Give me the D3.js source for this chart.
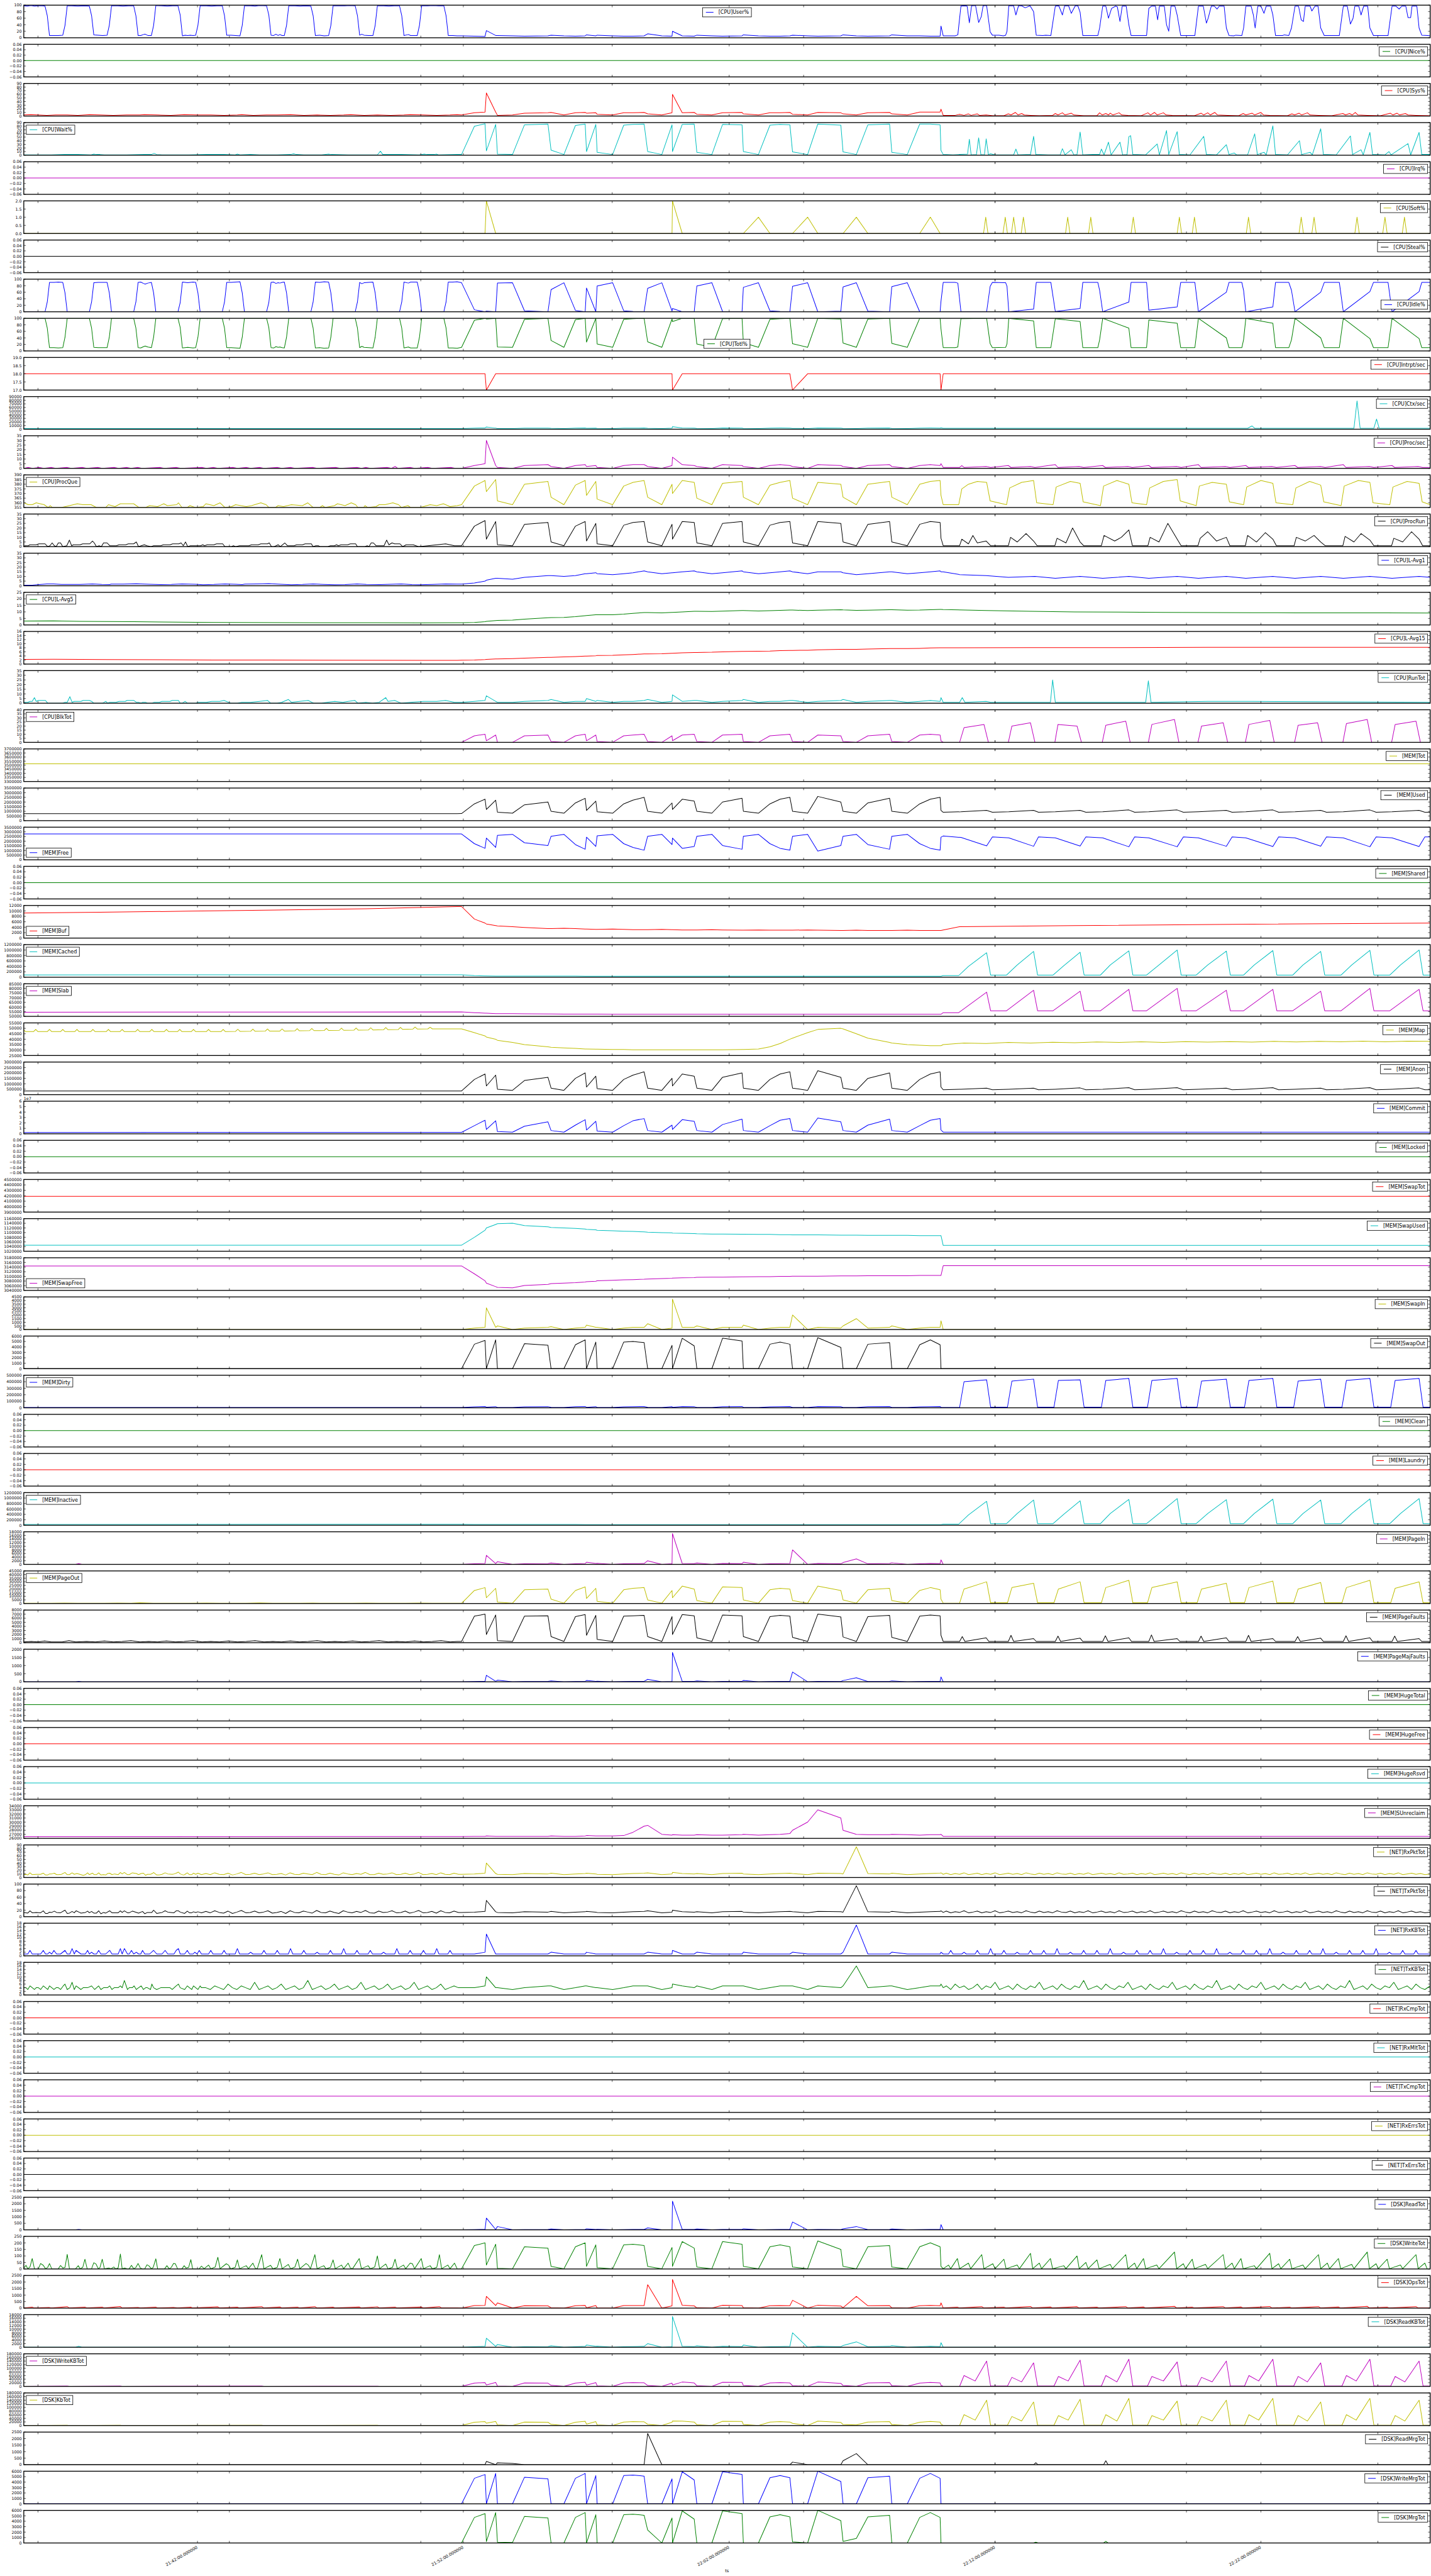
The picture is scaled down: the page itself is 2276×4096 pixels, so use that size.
<!DOCTYPE html>
<html><head><meta charset="utf-8">
<script src="https://cdn.jsdelivr.net/npm/d3@7/dist/d3.min.js"></script>
<style>html,body{margin:0;padding:0;background:#fff}svg{display:block}</style>
</head><body>
<svg id="chart" width="2276" height="4096" xmlns="http://www.w3.org/2000/svg"></svg>
<script>
// ---------------- time axis (seconds after 21:35:00) ----------------
const xDomain = [28, 3202];
const majorTicks = ["21:42:00","21:52:00","22:02:00","22:12:00","22:22:00"];
const minorTicks = ["21:36:00","21:43:12","21:50:24","21:57:36","22:04:48","22:12:00","22:19:12","22:26:24"];
const xLabel = "ts";
// sparse sampling period (sample times)
const tB = [1016,1045,1069,1072,1093,1097,1131,1158,1211,1218,1247,1273,1295,1298,1319,1322,1357,1382,1403,1428,1436,1468,1491,1492,1514,1541,1547,1581,1605,1649,1652,1686,1712,1735,1757,1763,1797,1820,1872,1877,1907,1933,1982,1987,2022,2050,2074,2096,2098];
const Z = (ts, vs) => ts.map((t, i) => [t, vs[i]]);
const zero = [[28,0],[3202,0]];

// ---------------- CPU ----------------
const cpuUser = [
 [28,98],[36,97],[44,99],[52,97],[60,98],[70,98],[76,97],[81,68],[86,7],[96,7],[106,7],[116,8],[121,38],[126,98],
 [136,98],[150,97],[164,98],[176,97],[181,68],[186,9],[196,8],[206,7],[216,8],[221,38],[226,98],
 [240,98],[252,97],[264,98],[276,98],[281,68],[286,7],[292,7],[298,10],[302,11],[308,7],[316,7],[321,38],[326,99],
 [340,98],[352,97],[364,98],[376,98],[381,70],[386,6],[392,8],[398,7],[404,8],[410,7],[416,8],[421,38],[426,98],
 [440,98],[452,97],[464,98],[476,98],[481,68],[486,8],[496,8],[506,7],[516,6],[521,38],[526,98],
 [540,98],[550,97],[560,99],[576,98],[581,70],[586,8],[592,7],[597,11],[602,7],[606,10],[611,7],[616,7],[621,38],[626,98],
 [640,98],[652,97],[664,98],[676,97],[681,68],[686,7],[696,8],[706,6],[716,7],[721,38],[726,98],
 [740,98],[752,98],[764,99],[776,98],[781,68],[786,8],[791,11],[796,8],[806,7],[816,7],[821,38],[826,98],
 [840,98],[852,97],[864,98],[876,98],[881,68],[886,7],[896,10],[901,7],[916,7],[921,38],[926,98],
 [940,98],[952,99],[964,98],[976,98],[981,68],[986,7],[996,7],[1006,6],
 ...Z(tB,[6,5,4,22,7,7,6,5,6,8,6,5,6,9,6,8,6,5,5,6,12,6,5,20,6,5,8,6,5,6,9,6,5,5,6,8,6,5,6,9,6,5,6,9,6,6,5,5,36]),
 [2103,6],[2115,6],[2130,6],[2136,9],[2143,97],[2151,98],[2157,97],[2162,46],[2167,98],[2176,99],[2183,47],[2189,65],[2193,98],[2201,99],[2209,18],[2214,8],[2229,8],[2239,6],[2244,8],[2247,20],
 [2251,98],[2262,98],[2267,70],[2273,98],[2280,98],[2288,92],[2299,98],[2307,80],[2313,8],[2328,7],[2334,8],[2346,7],
 [2356,97],[2364,98],[2372,70],[2377,98],[2386,98],[2392,75],[2401,98],[2407,98],[2412,78],[2418,7],[2452,7],[2456,30],
 [2463,97],[2470,97],[2476,60],[2483,90],[2492,97],[2496,95],[2502,50],[2507,97],[2516,97],[2522,40],[2527,7],[2562,7],
 [2567,90],[2573,97],[2582,97],[2587,55],[2591,97],[2602,97],[2607,40],[2612,20],[2617,97],[2626,97],[2631,70],[2639,7],[2671,7],
 [2679,97],[2690,97],[2697,45],[2701,60],[2708,97],[2715,97],[2721,88],[2726,97],[2737,97],[2742,30],[2748,7],[2759,6],[2763,8],[2777,7],[2781,30],
 [2786,97],[2798,97],[2803,70],[2807,30],[2813,97],[2820,97],[2827,75],[2832,97],[2842,97],[2847,70],[2853,7],[2869,7],[2873,9],[2883,7],[2889,30],
 [2897,97],[2905,97],[2911,55],[2916,50],[2920,97],[2931,97],[2935,82],[2942,97],[2949,97],[2955,30],[2963,7],[2997,7],
 [3006,97],[3015,97],[3022,42],[3028,60],[3032,97],[3041,97],[3046,70],[3052,97],[3061,97],[3066,30],[3074,7],[3107,7],
 [3116,97],[3125,97],[3132,88],[3138,97],[3147,97],[3152,62],[3158,62],[3161,97],[3172,97],[3177,30],[3183,8],[3197,7],[3202,6]
];
const cpuNice = zero;
const cpuSys = [
 [28,3],[44,4],[60,3],[80,2],[100,3],[126,3],[150,2],[176,4],[200,3],[230,2],[260,3],[290,3],[300,4],[330,3],[360,2],[390,4],[420,3],[450,3],[480,2],[510,3],[520,4],[546,2],[576,3],[600,3],[630,4],[660,2],[690,3],[720,2],[750,3],[766,4],[796,2],[826,3],[856,2],[886,3],[900,4],[930,3],[960,2],[990,3],[1006,4],
 ...Z(tB,[3,9,11,64,11,2,3,8,9,10,3,9,10,8,9,5,3,9,9,10,6,3,9,60,9,10,5,3,9,10,6,3,9,9,10,5,3,10,9,6,3,9,10,6,3,11,11,11,19]),
 [2103,2],[2130,2],[2140,5],[2150,2],[2160,6],[2166,2],[2180,6],[2185,2],[2200,3],[2215,1],[2240,1],[2250,6],[2256,3],[2266,10],[2272,3],[2280,7],[2286,3],[2300,2],[2320,1],[2350,2],[2356,7],[2362,3],[2372,9],[2378,3],[2392,8],[2398,3],[2420,1],[2450,1],[2456,9],[2462,3],[2470,7],[2476,3],[2480,8],[2486,3],[2500,9],[2506,3],[2520,2],[2550,1],[2565,9],[2571,3],[2580,10],[2586,3],[2600,9],[2606,3],[2620,2],[2670,1],[2685,8],[2691,3],[2700,9],[2706,3],[2716,10],[2722,3],[2745,2],[2770,1],[2780,7],[2786,3],[2800,8],[2806,3],[2820,10],[2826,3],[2840,2],[2880,1],[2890,6],[2896,3],[2906,8],[2912,3],[2925,9],[2931,3],[2950,2],[2980,1],[3005,7],[3011,3],[3020,7],[3026,3],[3033,10],[3039,3],[3060,2],[3090,1],[3112,8],[3118,3],[3127,8],[3133,3],[3146,7],[3152,3],[3170,2],[3202,1]
];
const cpuWait = [
 [28,1],[90,1],[120,2],[150,2],[180,1],[186,3],[192,2],[200,2],[210,1],[260,1],[300,2],[316,2],[322,5],[328,2],[340,1],[400,1],[440,2],[480,2],[505,1],[510,3],[516,1],[540,2],[560,1],[600,1],[630,2],[637,4],[643,2],[660,1],[700,1],[716,3],[722,2],[760,1],[826,1],[833,11],[838,2],[880,2],[920,1],[932,3],[938,2],[955,2],[959,3],[964,1],[1006,2],
 ...Z(tB,[2,80,87,12,85,3,2,84,86,14,2,82,86,10,85,8,2,83,85,86,10,2,84,10,85,86,8,2,85,84,10,2,83,85,84,9,2,86,83,9,2,84,86,8,2,86,86,84,13]),
 [2103,2],[2125,1],[2140,2],[2158,3],[2162,44],[2166,1],[2178,2],[2183,48],[2188,2],[2196,1],[2200,45],[2205,2],[2210,4],[2220,1],[2262,1],[2267,17],[2272,1],[2300,2],[2307,52],[2312,2],[2340,1],[2367,1],[2372,18],[2378,1],[2392,15],[2398,1],[2405,2],[2412,64],[2418,1],[2440,2],[2456,2],[2460,17],[2466,1],[2476,36],[2482,1],[2502,36],[2508,1],[2518,2],[2522,51],[2526,54],[2531,2],[2560,1],[2586,31],[2591,1],[2607,68],[2612,2],[2631,65],[2636,2],[2660,1],[2691,52],[2697,2],[2720,1],[2742,29],[2748,2],[2760,6],[2765,1],[2790,1],[2806,59],[2812,2],[2827,8],[2832,1],[2847,81],[2853,2],[2880,1],[2907,40],[2912,2],[2931,8],[2936,1],[2955,73],[2961,2],[2990,1],[3022,53],[3027,2],[3046,15],[3051,1],[3066,63],[3072,2],[3100,1],[3109,10],[3114,1],[3152,32],[3158,1],[3177,63],[3183,2],[3202,2]
];
const cpuIrq = zero;
const cpuSoft = [
 [28,0],
 ...Z(tB,[0,0,0,2,0,0,0,0,0,0,0,0,0,0,0,0,0,0,0,0,0,0,0,2,0,0,0,0,0,0,0,1,0,0,0,0,1,0,0,0,1,0,0,0,0,0,1,0,0]),
 [2103,0],[2194,0],[2199,1],[2204,0],[2238,0],[2243,1],[2248,0],[2257,0],[2262,1],[2267,0],[2279,0],[2284,1],[2289,0],[2379,0],[2384,1],[2389,0],[2431,0],[2436,1],[2441,0],[2527,0],[2532,1],[2537,0],[2631,0],[2636,1],[2641,0],[2665,0],[2670,1],[2675,0],[2787,0],[2792,1],[2797,0],[2906,0],[2911,1],[2916,0],[2935,0],[2940,1],[2945,0],[3032,0],[3037,1],[3042,0],[3095,0],[3100,1],[3105,0],[3139,0],[3144,1],[3149,0],[3202,0]
];
const cpuSteal = zero;
const cpuIdle = [
 [28,0],[76,0],[81,30],[86,90],[96,90],[106,91],[116,90],[121,58],[126,0],[176,0],[181,30],[186,89],[196,90],[206,90],[216,90],[221,58],[226,0],[276,0],[281,30],[286,90],[292,91],[298,87],[302,85],[308,88],[316,90],[321,58],[326,0],[376,0],[381,28],[386,91],[392,90],[398,89],[404,90],[410,91],[416,90],[421,58],[426,0],[476,0],[481,30],[486,90],[496,90],[506,91],[516,92],[521,58],[526,0],[576,0],[581,28],[586,90],[592,91],[597,87],[602,89],[606,88],[611,90],[616,91],[621,58],[626,0],[676,0],[681,30],[686,91],[696,90],[706,92],[716,91],[721,58],[726,0],[776,0],[781,30],[786,90],[791,86],[796,89],[806,90],[816,91],[821,58],[826,0],[876,0],[881,30],[886,91],[896,88],[901,91],[916,91],[921,58],[926,0],[976,0],[981,30],[986,91],[996,91],[1006,92],
 ...Z(tB,[89,6,0,2,0,88,89,3,0,68,89,4,0,73,0,79,89,3,1,0,72,89,2,10,0,0,79,89,1,0,75,89,3,1,0,78,89,0,2,76,89,2,0,77,89,0,0,0,32]),
 [2103,90],[2130,90],[2136,88],[2143,1],[2201,0],[2209,78],[2214,90],[2244,89],[2247,78],[2251,0],[2307,8],[2313,90],[2346,90],[2356,1],[2412,10],[2418,90],[2452,90],[2456,66],[2463,0],[2522,30],[2527,90],[2562,90],[2567,5],[2631,15],[2639,90],[2671,90],[2679,0],[2742,60],[2748,90],[2777,90],[2781,65],[2786,0],[2847,15],[2853,90],[2883,90],[2889,66],[2897,0],[2955,60],[2963,90],[2997,90],[3006,0],[3066,62],[3074,90],[3107,90],[3116,0],[3177,62],[3183,90],[3202,90]
];
const cpuTotl = [
 [28,100],[76,100],[81,70],[86,10],[96,10],[106,9],[116,10],[121,42],[126,100],[176,100],[181,70],[186,11],[196,10],[206,10],[216,10],[221,42],[226,100],[276,100],[281,70],[286,10],[292,9],[298,13],[302,15],[308,12],[316,10],[321,42],[326,100],[376,100],[381,72],[386,9],[392,10],[398,11],[404,10],[410,9],[416,10],[421,42],[426,100],[476,100],[481,70],[486,10],[496,10],[506,9],[516,8],[521,42],[526,100],[576,100],[581,72],[586,10],[592,9],[597,13],[602,11],[606,12],[611,10],[616,9],[621,42],[626,100],[676,100],[681,70],[686,9],[696,10],[706,8],[716,9],[721,42],[726,100],[776,100],[781,70],[786,10],[791,14],[796,11],[806,10],[816,9],[821,42],[826,100],[876,100],[881,70],[886,9],[896,12],[901,9],[916,9],[921,42],[926,100],[976,100],[981,70],[986,9],[996,9],[1006,8],
 ...Z(tB,[11,94,100,98,100,12,11,97,100,32,11,96,100,27,100,21,11,97,99,100,28,11,98,90,100,100,21,11,99,100,25,11,97,99,100,22,11,100,98,24,11,98,100,23,11,100,100,100,68]),
 [2103,10],[2130,10],[2136,12],[2143,99],[2201,100],[2209,22],[2214,10],[2244,11],[2247,22],[2251,100],[2307,92],[2313,10],[2346,10],[2356,99],[2412,90],[2418,10],[2452,10],[2456,34],[2463,100],[2522,70],[2527,10],[2562,10],[2567,95],[2631,85],[2639,10],[2671,10],[2679,100],[2742,40],[2748,10],[2777,10],[2781,35],[2786,100],[2847,85],[2853,10],[2883,10],[2889,34],[2897,100],[2955,40],[2963,10],[2997,10],[3006,100],[3066,38],[3074,10],[3107,10],[3116,100],[3177,38],[3183,10],[3202,10]
];
const cpuIntrpt = [
 [28,18],
 ...Z(tB,[18,18,18,17,18,18,18,18,18,18,18,18,18,18,18,18,18,18,18,18,18,18,18,17,18,18,18,18,18,18,18,18,18,18,18,17,18,18,18,18,18,18,18,18,18,18,18,18,17]),
 [2103,18],[3202,18]
];
const cpuCtx = [
 [28,1500],[200,1600],[400,1500],[600,1600],[800,1500],[1006,1600],
 ...Z(tB,[1600,3000,3500,6000,3200,1800,1600,3000,3100,2500,1600,2900,3400,2400,3100,2000,1600,3000,3100,3200,2600,1600,2900,7000,3300,3000,2200,1600,3300,3100,2300,1600,3000,3200,3000,2200,1600,3400,2900,2300,1600,3000,3200,2200,1600,3000,3300,3100,4000]),
 [2103,2500],[2500,2600],[2790,2600],[2800,9000],[2806,2600],[3030,2600],[3037,78000],[3044,2600],[3075,2600],[3081,28000],[3087,2600],[3202,2600]
];
const cpuProcSec = [
 [28,0],[38,1],[48,0],[63,1],[73,0],[90,1],[100,0],[125,1],[135,0],[160,1],[170,0],[195,1],[205,0],[232,1],[242,0],[260,1],[270,0],[285,1],[295,0],[335,1],[345,0],[372,1],[382,0],[430,1],[440,0],[456,1],[466,0],[500,1],[510,0],[530,1],[540,0],[560,1],[570,0],[600,1],[610,0],[630,1],[640,0],[680,1],[690,0],[732,1],[742,0],[780,1],[790,0],[800,1],[810,0],[848,1],[858,0],[866,2],[872,0],[900,1],[910,0],[940,1],[950,0],[992,1],[1002,0],
 ...Z(tB,[0,3,5,30,3,1,0,3,4,2,0,3,4,2,3,1,0,3,4,4,2,0,3,12,4,3,2,0,4,3,2,0,3,4,3,2,0,4,3,2,0,3,4,2,0,3,4,3,5]),
 [2103,1],[2140,1],[2145,3],[2150,1],[2200,2],[2210,1],[2250,3],[2256,1],[2300,2],[2310,1],[2356,4],[2362,1],[2410,2],[2420,1],[2463,3],[2469,1],[2520,2],[2530,1],[2567,3],[2573,1],[2630,2],[2640,1],[2679,4],[2685,1],[2740,2],[2750,1],[2786,3],[2792,1],[2845,2],[2855,1],[2897,3],[2903,1],[2955,2],[2965,1],[3006,4],[3012,1],[3065,2],[3075,1],[3116,3],[3122,1],[3175,2],[3185,1],[3202,1]
];
const cpuProcQue = [
 [29,360],[38,358],[47,358],[56,360],[74,358],[83,355],[88,357],[92,355],[113,355],[122,356],[131,357],[149,359],[161,358],[180,358],[192,355],[213,355],[219,358],[234,356],[246,359],[258,359],[276,359],[288,355],[303,355],[312,357],[330,356],[344,359],[352,357],[373,358],[377,360],[385,355],[397,355],[403,357],[415,355],[433,356],[439,359],[457,357],[471,360],[482,355],[497,356],[506,358],[530,356],[542,357],[563,360],[575,358],[581,355],[596,355],[602,357],[614,356],[632,358],[657,357],[669,360],[681,355],[696,355],[702,357],[708,355],[729,357],[736,359],[753,357],[767,360],[777,358],[782,355],[795,355],[798,357],[804,355],[823,356],[830,358],[843,358],[861,360],[874,358],[880,355],[895,357],[901,355],[921,355],[930,356],[945,358],[960,357],[975,359],[990,356],[1006,357],
 ...Z(tB,[358,378,384,372,385,362,358,380,383,366,358,379,384,368,383,364,358,378,382,384,366,358,380,370,384,382,365,358,381,383,366,358,379,382,384,365,358,382,380,366,358,380,383,366,358,380,383,384,368]),
 [2103,358],[2138,358],[2145,375],[2160,380],[2180,383],[2201,382],[2209,362],[2246,358],[2253,376],[2280,382],[2307,384],[2314,360],[2351,358],[2358,377],[2390,383],[2412,381],[2419,361],[2458,357],[2465,378],[2495,384],[2522,380],[2529,360],[2562,358],[2569,376],[2600,383],[2631,385],[2638,362],[2674,357],[2681,378],[2710,382],[2742,380],[2749,361],[2781,358],[2788,377],[2820,384],[2847,381],[2854,360],[2892,358],[2899,376],[2930,383],[2955,379],[2962,361],[3001,357],[3008,378],[3040,384],[3066,382],[3073,360],[3111,358],[3118,377],[3150,383],[3177,381],[3184,361],[3202,358]
];
const cpuProcRun = [
 [29,1],[38,1],[42,2],[56,2],[62,3],[76,3],[82,0],[87,1],[92,4],[97,1],[101,0],[106,4],[111,4],[116,0],[125,1],[131,7],[136,1],[140,2],[155,2],[161,3],[177,3],[183,6],[187,4],[192,0],[198,1],[203,0],[208,4],[216,4],[222,1],[237,1],[243,2],[258,2],[264,3],[276,3],[282,5],[287,0],[293,1],[300,2],[306,1],[315,0],[321,1],[337,1],[343,2],[358,2],[364,3],[378,3],[383,4],[388,1],[393,5],[398,0],[404,1],[427,1],[432,2],[436,1],[442,2],[457,2],[463,3],[477,3],[482,0],[497,0],[501,1],[506,0],[515,1],[536,1],[542,2],[557,2],[563,3],[578,3],[582,4],[587,0],[593,0],[602,2],[607,0],[617,4],[623,1],[638,1],[644,2],[657,2],[663,3],[677,3],[681,0],[687,1],[693,1],[696,0],[714,0],[720,1],[729,1],[734,2],[738,1],[744,2],[759,2],[765,3],[777,3],[781,0],[798,0],[803,1],[807,0],[812,4],[817,4],[823,1],[841,1],[847,7],[852,2],[859,4],[865,3],[877,3],[883,0],[891,2],[907,2],[913,1],[919,0],[940,1],[960,2],[980,3],[1000,1],
 ...Z(tB,[1,22,28,8,27,2,1,24,26,5,1,22,27,6,25,3,1,23,26,27,5,1,24,8,27,26,4,1,25,27,5,1,23,26,27,4,1,27,25,5,1,24,27,5,1,24,27,26,9]),
 [2103,1],[2140,1],[2145,8],[2160,3],[2170,12],[2180,4],[2200,6],[2210,1],[2250,1],[2255,10],[2270,5],[2290,14],[2307,6],[2315,1],[2355,1],[2360,9],[2380,4],[2395,20],[2412,5],[2420,1],[2460,1],[2466,12],[2490,6],[2505,10],[2522,18],[2530,1],[2565,1],[2570,10],[2590,5],[2610,25],[2631,8],[2640,1],[2678,1],[2683,9],[2700,16],[2720,6],[2742,10],[2750,1],[2785,1],[2790,12],[2810,5],[2830,15],[2847,8],[2855,1],[2895,1],[2900,10],[2920,6],[2940,12],[2955,5],[2965,1],[3005,1],[3010,11],[3030,5],[3046,14],[3066,7],[3075,1],[3115,1],[3120,9],[3140,5],[3160,16],[3177,8],[3185,1],[3202,1]
];
const cpuLAvg1 = [
 [29,0.6],[47,0.7],[62,1.3],[80,2.0],[95,1.9],[113,1.5],[131,1.4],[155,1.5],[183,2.0],[204,1.5],[222,1.3],[225,1.8],[252,1.8],[282,2.1],[312,1.6],[337,1.3],[361,1.4],[385,2.0],[415,1.6],[433,1.2],[457,1.4],[482,2.0],[506,1.6],[521,1.3],[527,1.8],[554,2.0],[581,2.3],[608,1.6],[632,1.2],[657,1.4],[681,2.0],[705,1.5],[729,1.2],[753,1.3],[780,2.0],[801,1.5],[832,1.3],[856,1.6],[880,2.0],[904,1.3],[921,1.2],[950,1.5],[980,2.0],[1006,1.8],
 ...Z(tB,[1.8,3,5,6,8,8,7,9,11,11,10,11,13,13,14,13,12,13,14,16,15,13,14,14,15,16,15,13,14,16,15,13,14,15,16,15,13,15,15,14,12,13,15,15,13,14,15,16,15]),
 [2103,15],[2140,12],[2200,11],[2250,9],[2310,10],[2356,8],[2412,10],[2463,8],[2522,10],[2567,8],[2631,10],[2679,8],[2742,10],[2786,8],[2847,10],[2897,8],[2955,10],[3006,8],[3066,10],[3116,8],[3177,10],[3202,9]
];
const cpuLAvg5 = [
 [29,3.0],[95,3.1],[155,2.7],[276,2.5],[337,2.2],[457,1.9],[578,1.8],[699,1.7],[820,1.6],[921,1.55],[1006,1.6],
 ...Z(tB,[1.6,1.9,2.5,2.7,3.3,3.4,3.7,4.4,5.5,5.6,5.8,6.4,7.1,7.2,7.8,7.8,7.8,8.3,8.9,9.5,9.5,9.3,9.6,9.6,10.0,10.5,10.5,10.3,10.6,11.0,11.0,10.7,10.9,11.2,11.4,11.4,11.0,11.3,11.6,11.5,11.2,11.3,11.7,11.7,11.3,11.4,11.7,11.9,11.9]),
 [2103,11.8],[2200,11],[2300,10.5],[2400,10],[2500,9.8],[2600,9.6],[2700,9.5],[2800,9.4],[2900,9.3],[3000,9.2],[3100,9.2],[3202,9.1]
];
const cpuLAvg15 = [
 [29,2.3],[95,2.4],[216,2.2],[337,2.1],[457,2.0],[578,1.95],[699,1.9],[921,1.8],[1006,1.85],
 ...Z(tB,[1.9,2.0,2.2,2.3,2.5,2.5,2.7,2.9,3.3,3.3,3.5,3.7,3.9,3.9,4.1,4.2,4.3,4.5,4.7,5.0,5.0,5.1,5.3,5.3,5.5,5.7,5.7,5.8,6.0,6.2,6.2,6.3,6.4,6.6,6.7,6.7,6.8,7.0,7.2,7.2,7.2,7.4,7.6,7.6,7.6,7.7,7.9,8.0,8.0]),
 [2103,8.0],[2300,8.1],[2500,8.1],[2700,8.2],[2900,8.2],[3100,8.2],[3202,8.2]
];
const cpuRunTot = [
 [28,1],[37,1],[42,2],[47,2],[52,6],[56,2],[61,3],[77,3],[82,0],[116,0],[121,1],[126,1],[132,7],[137,1],[142,2],[157,2],[162,3],[176,3],[181,2],[186,0],[206,0],[213,2],[217,0],[222,1],[236,1],[243,2],[257,2],[261,3],[276,3],[282,1],[287,1],[293,0],[296,1],[303,1],[307,0],[318,0],[322,1],[334,1],[340,2],[358,2],[363,3],[377,3],[381,0],[386,0],[392,2],[397,0],[416,0],[422,1],[440,1],[452,2],[470,2],[480,3],[495,0],[510,0],[520,1],[540,1],[560,2],[578,3],[585,0],[600,0],[610,1],[625,4],[632,1],[650,2],[670,3],[682,0],[700,0],[712,1],[730,2],[748,1],[760,2],[775,3],[782,0],[800,1],[815,0],[830,1],[845,6],[850,2],[865,3],[880,0],[900,1],[930,2],[960,2],[980,3],[1000,1],
 ...Z(tB,[1,2,3,8,2,1,1,2,3,4,1,2,2,5,2,3,1,2,2,3,4,1,2,9,2,3,3,1,2,3,4,1,2,2,3,3,1,2,3,4,1,2,3,3,1,2,3,2,6]),
 [2103,1],[2140,1],[2146,6],[2152,1],[2200,2],[2210,1],[2345,1],[2350,25],[2356,1],[2560,1],[2566,24],[2572,1],[2700,2],[2800,2],[3202,1]
];
const cpuBlkTot = [
 [28,0],[1006,0],
 ...Z(tB,[0,8,10,2,9,0,0,8,9,1,0,8,10,2,9,1,0,8,9,10,1,0,8,2,9,10,1,0,9,10,1,0,8,9,10,1,0,9,8,1,0,8,10,1,0,9,10,9,2]),
 [2103,0],[2140,0],[2150,18],[2195,22],[2205,0],[2250,0],[2258,20],[2300,24],[2310,0],[2355,0],[2362,22],[2405,20],[2415,0],[2462,0],[2470,21],[2515,26],[2525,0],[2566,0],[2574,22],[2625,28],[2635,0],[2678,0],[2686,20],[2735,24],[2745,0],[2785,0],[2793,22],[2840,27],[2850,0],[2896,0],[2904,21],[2948,24],[2958,0],[3005,0],[3013,23],[3060,28],[3070,0],[3115,0],[3123,22],[3170,26],[3180,0],[3202,0]
];

// ---------------- MEM ----------------
const memTot = [[28,3518000],[3202,3518000]];
const memUsed = [
 [28,750000],[1006,755000],
 ...Z(tB,[760000,1800000,2300000,1200000,2200000,900000,800000,1700000,2000000,1000000,800000,1900000,2400000,1100000,2100000,950000,800000,1800000,2200000,2500000,1000000,800000,1900000,1200000,2300000,2100000,1000000,800000,2000000,2400000,1000000,800000,1800000,2300000,2500000,1000000,800000,2600000,2000000,1000000,800000,1900000,2400000,1000000,800000,1800000,2300000,2500000,1100000]),
 [2103,900000],[2143,950000],[2201,1100000],[2214,900000],[2251,950000],[2307,1100000],[2318,900000],[2356,950000],[2412,1100000],[2425,900000],[2463,950000],[2522,1150000],[2535,900000],[2567,950000],[2631,1150000],[2645,900000],[2679,950000],[2742,1100000],[2755,900000],[2786,950000],[2847,1150000],[2860,900000],[2897,950000],[2955,1100000],[2968,900000],[3006,950000],[3066,1150000],[3080,900000],[3116,950000],[3177,1100000],[3190,900000],[3202,900000]
];
const memFree = [
 [28,2780000],[1006,2775000],
 ...Z(tB,[2770000,1730000,1230000,2330000,1330000,2630000,2730000,1830000,1530000,2530000,2730000,1630000,1130000,2430000,1430000,2580000,2730000,1730000,1330000,1030000,2530000,2730000,1630000,2330000,1230000,1430000,2530000,2730000,1530000,1130000,2530000,2730000,1730000,1230000,1030000,2530000,2730000,930000,1530000,2530000,2730000,1630000,1130000,2530000,2730000,1730000,1230000,1030000,2430000]),
 [2103,2550000],[2143,2400000],[2201,1500000],[2214,2450000],[2251,2350000],[2307,1450000],[2318,2450000],[2356,2350000],[2412,1480000],[2425,2450000],[2463,2350000],[2522,1400000],[2535,2450000],[2567,2350000],[2631,1400000],[2645,2450000],[2679,2350000],[2742,1450000],[2755,2450000],[2786,2350000],[2847,1420000],[2860,2450000],[2897,2350000],[2955,1460000],[2968,2450000],[3006,2350000],[3066,1400000],[3080,2450000],[3116,2350000],[3177,1420000],[3190,2450000],[3202,2450000]
];
const memShared = zero;
const memBuf = [
 [28,9200],[200,9500],[400,9900],[600,10300],[800,10800],[1006,11600],
 ...Z(tB,[11600,7000,5500,5200,4600,4500,4200,3900,3500,3500,3600,3500,3300,3300,3200,3200,3300,3200,3100,3100,3100,3200,3100,3100,3000,3000,3000,3100,3000,2900,2900,3000,2900,2900,2900,2900,3000,2900,2800,2800,2900,2800,2800,2800,2900,2800,2800,2800,2800]),
 [2103,3000],[2140,4200],[2400,4600],[2800,5100],[3202,5500]
];
const memCached = [
 [28,85000],[1006,90000],
 ...Z(tB,[90000,60000,50000,50000,45000,45000,45000,42000,40000,40000,40000,40000,38000,38000,38000,38000,38000,38000,37000,37000,37000,37000,37000,37000,36000,36000,36000,36000,36000,36000,36000,36000,36000,36000,36000,36000,36000,36000,36000,36000,36000,36000,36000,36000,36000,36000,36000,36000,36000]),
 [2103,60000],[2138,60000],[2160,400000],[2201,900000],[2210,80000],[2246,80000],[2270,450000],[2307,950000],[2316,80000],[2351,80000],[2375,420000],[2412,920000],[2421,80000],[2458,80000],[2480,450000],[2522,970000],[2531,80000],[2562,80000],[2590,450000],[2631,1000000],[2640,80000],[2674,80000],[2700,450000],[2742,960000],[2751,80000],[2781,80000],[2805,450000],[2847,980000],[2856,80000],[2892,80000],[2915,450000],[2955,950000],[2964,80000],[3001,80000],[3025,450000],[3066,990000],[3075,80000],[3111,80000],[3135,450000],[3177,1000000],[3186,80000],[3202,80000]
];
const memSlab = [
 [28,54500],[1006,54700],
 ...Z(tB,[54700,54000,53500,53500,53000,53000,53000,52800,52600,52600,52500,52500,52400,52400,52400,52400,52300,52300,52300,52300,52300,52300,52200,52200,52200,52200,52200,52200,52200,52200,52200,52200,52200,52200,52200,52200,52200,52200,52200,52200,52200,52200,52200,52200,52200,52200,52200,52200,52200]),
 [2103,54000],[2138,54000],[2201,76000],[2210,56000],[2246,56000],[2307,78000],[2316,56000],[2351,56000],[2412,77000],[2421,56000],[2458,56000],[2522,79000],[2531,56000],[2562,56000],[2631,80000],[2640,56000],[2674,56000],[2742,78000],[2751,56000],[2781,56000],[2847,79000],[2856,56000],[2892,56000],[2955,77000],[2964,56000],[3001,56000],[3066,80000],[3075,56000],[3111,56000],[3177,79000],[3186,56000],[3202,56000]
];
const memMap = [
 [28,48500],[32,47000],[50,47000],[55,49000],[60,47000],[81,47000],[86,49000],[91,47000],[111,47000],[116,49000],[121,47000],[143,47000],[148,49000],[153,47000],[179,47000],[184,49000],[189,47000],[214,47000],[219,49000],[224,47000],[245,47000],[250,49000],[255,47000],[280,47000],[285,49000],[290,47000],[312,47000],[317,49000],[322,47000],[345,47000],[350,49000],[355,47000],[375,47000],[380,49000],[385,47000],[406,47000],[411,49000],[416,47000],[440,47000],[445,49000],[450,47000],[473,47000],[478,49000],[483,47000],[506,47200],[511,49200],[516,47200],[540,47300],[545,49300],[550,47300],[573,47400],[578,49400],[583,47400],[606,47500],[611,49500],[616,47500],[640,47700],[645,49700],[650,47700],[673,47900],[678,49900],[683,47900],[706,48000],[711,50000],[716,48000],[740,48200],[745,50200],[750,48200],[773,48300],[778,50300],[783,48300],[806,48500],[811,50500],[816,48500],[840,48700],[845,50700],[850,48700],[873,48900],[878,50900],[883,49000],[906,49300],[911,51200],[916,49400],[940,49500],[945,51000],[950,49500],[1006,49500],
 ...Z(tB,[49500,46000,43000,42000,40000,39000,37000,35000,33000,32500,32000,31500,31000,31000,30800,30800,30500,30500,30300,30300,30300,30300,30200,30200,30200,30200,30200,30300,30300,30500,30500,31000,33000,36000,40000,41000,46000,49000,50000,49500,45000,41000,37000,36500,35000,34500,34000,34000,34000]),
 [2103,35000],[2150,36500],[2200,36000],[2250,37000],[2300,36500],[2350,37200],[2400,36800],[2450,37500],[2500,37000],[2550,37600],[2600,37100],[2650,37800],[2700,37300],[2750,37800],[2800,37400],[2850,38000],[2900,37500],[2950,38000],[3000,37600],[3050,38200],[3100,37700],[3150,38200],[3202,38000]
];
const memAnon = [
 [28,330000],[1006,335000],
 ...Z(tB,[340000,1400000,1900000,800000,1800000,500000,400000,1300000,1600000,600000,400000,1500000,2000000,700000,1700000,550000,400000,1400000,1800000,2100000,600000,400000,1500000,800000,1900000,1700000,600000,400000,1600000,2000000,600000,400000,1400000,1900000,2100000,600000,400000,2200000,1600000,600000,400000,1500000,2000000,600000,400000,1400000,1900000,2100000,700000]),
 [2103,450000],[2143,500000],[2201,600000],[2214,450000],[2251,500000],[2307,600000],[2318,450000],[2356,500000],[2412,620000],[2425,450000],[2463,500000],[2522,640000],[2535,450000],[2567,500000],[2631,640000],[2645,450000],[2679,500000],[2742,600000],[2755,450000],[2786,500000],[2847,640000],[2860,450000],[2897,500000],[2955,600000],[2968,450000],[3006,500000],[3066,640000],[3080,450000],[3116,500000],[3177,620000],[3190,450000],[3202,450000]
];
const memCommit = [
 [28,2500000],[1006,2600000],
 ...Z(tB,[2600000,15000000,25000000,8000000,24000000,4000000,3000000,14000000,22000000,6000000,3000000,16000000,26000000,7000000,23000000,5000000,3000000,15000000,24000000,28000000,6000000,3000000,16000000,8000000,26000000,23000000,6000000,3000000,17000000,27000000,6000000,3000000,15000000,25000000,28000000,6000000,3000000,29000000,22000000,6000000,3000000,16000000,27000000,6000000,3000000,15000000,25000000,28000000,7000000]),
 [2103,3000000],[3202,3000000]
];
const memLocked = zero;
const memSwapTot = [[28,4191000],[3202,4191000]];
const memSwapUsed = [
 [28,1046000],[1006,1046000],
 ...Z(tB,[1046000,1080000,1110000,1120000,1135000,1138000,1140000,1130000,1125000,1122000,1120000,1118000,1115000,1114000,1112000,1110000,1108000,1106000,1105000,1103000,1102000,1100000,1099000,1098000,1097000,1096000,1095000,1094000,1094000,1093000,1093000,1092000,1092000,1091000,1091000,1090000,1090000,1090000,1089000,1089000,1089000,1088000,1088000,1088000,1088000,1087000,1087000,1087000,1087000]),
 [2103,1045000],[3202,1045000]
];
const memSwapFree = [
 [28,3145000],[1006,3145000],
 ...Z(tB,[3145000,3111000,3081000,3071000,3056000,3053000,3051000,3061000,3066000,3069000,3071000,3073000,3076000,3077000,3079000,3081000,3083000,3085000,3086000,3088000,3089000,3091000,3092000,3093000,3094000,3095000,3096000,3097000,3097000,3098000,3098000,3099000,3099000,3100000,3100000,3101000,3101000,3101000,3102000,3102000,3102000,3103000,3103000,3103000,3103000,3104000,3104000,3104000,3104000]),
 [2103,3146000],[3202,3146000]
];
const memSwapIn = [
 [28,0],[1006,0],
 ...Z(tB,[0,200,300,3000,300,500,0,200,300,400,0,200,300,600,300,300,0,200,300,300,800,0,200,4200,300,300,500,0,300,300,600,0,200,300,300,2000,0,300,200,500,1500,200,300,500,0,200,300,300,1200]),
 [2103,0],[3202,0]
];
const memSwapOut = [
 [28,0],[1006,0],
 ...Z(tB,[0,4500,5200,0,5300,0,0,4600,4300,0,0,4400,5300,0,4900,0,0,4900,5000,4800,0,0,4300,0,5600,4200,0,0,5600,5100,0,0,4500,4900,4500,0,0,5700,3900,0,0,4500,4800,0,0,4400,5300,4400,0]),
 [2103,0],[3202,0]
];
const memDirty = [
 [28,5000],[200,6000],[400,5000],[600,6000],[800,5000],[1006,5000],
 ...Z(tB,[5000,15000,20000,10000,18000,5000,4000,15000,18000,8000,4000,16000,20000,8000,18000,6000,4000,15000,18000,20000,8000,4000,16000,8000,20000,18000,6000,4000,18000,20000,8000,4000,15000,18000,20000,6000,4000,20000,16000,6000,4000,16000,20000,6000,4000,15000,18000,20000,8000]),
 [2103,5000],[2140,5000],[2150,400000],[2201,430000],[2210,10000],[2248,10000],[2258,410000],[2307,440000],[2316,10000],[2353,10000],[2363,420000],[2412,430000],[2421,10000],[2460,10000],[2470,420000],[2522,450000],[2531,10000],[2564,10000],[2574,420000],[2631,450000],[2640,10000],[2676,10000],[2686,410000],[2742,440000],[2751,10000],[2783,10000],[2793,420000],[2847,450000],[2856,10000],[2894,10000],[2904,410000],[2955,440000],[2964,10000],[3003,10000],[3013,420000],[3066,450000],[3075,10000],[3113,10000],[3123,420000],[3177,450000],[3186,10000],[3202,10000]
];
const memClean = zero;
const memLaundry = zero;
const memInactive = [
 [28,30000],[1006,32000],
 ...Z(tB,[32000,30000,28000,28000,27000,27000,27000,26000,26000,26000,26000,26000,25000,25000,25000,25000,25000,25000,25000,25000,25000,25000,25000,25000,25000,25000,25000,25000,25000,25000,25000,25000,25000,25000,25000,25000,25000,25000,25000,25000,25000,25000,25000,25000,25000,25000,25000,25000,25000]),
 [2103,40000],[2138,40000],[2160,380000],[2201,880000],[2210,60000],[2246,60000],[2270,430000],[2307,930000],[2316,60000],[2351,60000],[2375,400000],[2412,900000],[2421,60000],[2458,60000],[2480,430000],[2522,950000],[2531,60000],[2562,60000],[2590,430000],[2631,980000],[2640,60000],[2674,60000],[2700,430000],[2742,940000],[2751,60000],[2781,60000],[2805,430000],[2847,960000],[2856,60000],[2892,60000],[2915,430000],[2955,930000],[2964,60000],[3001,60000],[3025,430000],[3066,970000],[3075,60000],[3111,60000],[3135,430000],[3177,980000],[3186,60000],[3202,60000]
];
const memPageIn = [
 [28,0],[145,0],[152,400],[159,0],[1006,0],
 ...Z(tB,[0,300,500,5000,500,1500,0,300,400,800,0,300,500,1200,500,600,0,300,400,500,2000,0,300,17000,500,400,800,0,500,400,1200,0,300,400,500,8000,0,500,300,1000,3000,300,500,900,0,300,500,400,2500]),
 [2103,0],[3202,0]
];
const memPageOut = [
 [28,300],[60,500],[90,300],[120,700],[150,300],[180,500],[210,300],[240,600],[270,300],[290,1000],[320,300],[360,500],[400,300],[440,600],[470,300],[500,500],[530,300],[560,800],[590,300],[620,500],[650,300],[680,600],[710,300],[740,500],[770,300],[800,700],[830,300],[860,500],[890,300],[920,600],[950,300],[980,500],[1006,300],
 ...Z(tB,[300,18000,22000,8000,21000,2000,500,19000,20000,6000,500,18000,23000,7000,21000,3000,500,19000,21000,22000,5000,500,18000,8000,24000,20000,4000,500,23000,22000,5000,500,19000,21000,20000,4000,500,24000,18000,5000,500,19000,21000,4000,500,18000,22000,19000,6000]),
 [2103,500],[2140,500],[2150,20000],[2201,30000],[2210,1000],[2248,1000],[2258,22000],[2307,28000],[2316,1000],[2353,1000],[2363,20000],[2412,30000],[2421,1000],[2460,1000],[2470,22000],[2522,32000],[2531,1000],[2564,1000],[2574,22000],[2631,30000],[2640,1000],[2676,1000],[2686,20000],[2742,28000],[2751,1000],[2783,1000],[2793,22000],[2847,31000],[2856,1000],[2894,1000],[2904,20000],[2955,29000],[2964,1000],[3003,1000],[3013,22000],[3066,32000],[3075,1000],[3113,1000],[3123,21000],[3177,30000],[3186,1000],[3202,1000]
];
const memPageFaults = [
 [28,200],[45,300],[60,200],[75,400],[90,200],[115,200],[130,500],[145,200],[170,300],[190,200],[210,400],[230,200],[250,300],[270,500],[290,200],[310,300],[330,200],[350,400],[370,200],[390,300],[410,500],[430,200],[450,300],[470,200],[490,400],[510,200],[530,300],[550,500],[570,200],[590,300],[610,200],[630,400],[650,200],[670,300],[690,500],[710,200],[730,300],[750,200],[770,400],[790,200],[810,300],[830,500],[850,200],[870,300],[890,200],[910,400],[930,200],[950,300],[970,500],[990,200],[1006,300],
 ...Z(tB,[300,6500,7000,2000,6800,500,300,6500,6600,1500,300,6400,6900,1800,6700,800,300,6500,6600,6700,1500,300,6400,2000,6900,6600,1200,300,6800,6600,1500,300,6400,6700,6500,1300,300,7000,6300,1400,300,6400,6700,1300,300,6500,6800,6600,1800]),
 [2103,300],[2140,300],[2146,1500],[2152,300],[2200,1200],[2206,300],[2250,300],[2256,1800],[2262,300],[2307,1000],[2313,300],[2356,300],[2362,1600],[2368,300],[2412,1100],[2418,300],[2463,300],[2469,1700],[2475,300],[2522,1200],[2528,300],[2567,300],[2573,1900],[2579,300],[2631,1000],[2637,300],[2679,300],[2685,1600],[2691,300],[2742,1200],[2748,300],[2786,300],[2792,1800],[2798,300],[2847,1000],[2853,300],[2897,300],[2903,1500],[2909,300],[2955,1100],[2961,300],[3006,300],[3012,1700],[3018,300],[3066,1200],[3072,300],[3116,300],[3122,1600],[3128,300],[3177,1000],[3183,300],[3202,300]
];
const memPageMaj = [
 [28,0],[145,0],[152,30],[159,0],[1006,0],
 ...Z(tB,[0,20,30,400,30,100,0,20,30,60,0,20,30,80,30,40,0,20,30,30,150,0,20,1800,30,30,60,0,30,30,80,0,20,30,30,600,0,30,20,80,250,20,30,60,0,20,30,30,300]),
 [2103,0],[3202,0]
];
const memHugeTotal = zero;
const memHugeFree = zero;
const memHugeRsvd = zero;
const memSUnreclaim = [
 [28,26400],[1006,26450],
 ...Z(tB,[26450,26500,26500,26600,26500,26500,26500,26500,26500,26600,26500,26500,26600,26700,26600,26600,26600,26700,27500,29000,29200,27000,26800,26900,26800,26800,26900,26800,26800,26900,27000,26800,26900,27000,27200,28000,30000,33000,31000,28000,27000,26900,26900,27000,26900,26800,26900,26900,27000]),
 [2103,26500],[3202,26500]
];

// ---------------- NET ----------------
const netRxPkt = [
 [28,8],[33,9],[37,7],[42,13],[47,8],[56,9],[66,9],[72,12],[77,7],[82,7],[86,10],[91,10],[97,12],[102,8],[107,8],[113,9],[121,14],[126,8],[131,8],[137,13],[142,9],[148,11],[157,8],[162,6],[167,8],[172,13],[176,8],[183,12],[187,8],[192,8],[197,13],[202,7],[208,8],[213,7],[217,11],[222,12],[227,8],[233,10],[241,8],[246,14],[250,10],[255,14],[262,8],[266,8],[273,13],[282,11],[287,8],[293,11],[298,12],[303,6],[307,9],[314,9],[318,11],[321,14],[328,7],[333,7],[340,9],[347,13],[353,10],[363,9],[367,10],[372,12],[377,15],[381,10],[388,7],[391,8],[397,13],[402,8],[407,8],[411,12],[416,9],[421,12],[429,8],
 [439,11],[449,8],[459,13],[469,9],[479,8],[489,12],[499,7],[509,10],[519,14],[529,8],[539,9],[549,12],[559,8],[569,10],[579,13],[589,8],[599,9],[609,11],[619,7],[629,13],[639,9],[649,8],[659,12],[669,10],[679,8],[689,14],[699,9],[709,8],[719,12],[729,9],[739,7],[749,13],[759,10],[769,8],[779,11],[789,9],[799,14],[809,8],[819,8],[829,12],[839,9],[849,10],[859,13],[869,8],[879,9],[889,12],[899,8],[909,10],[919,14],[929,8],[939,9],[949,11],[959,8],[969,13],[979,9],[989,8],[999,12],[1009,9],
 ...Z(tB,[9,10,12,40,11,9,8,11,10,12,8,10,11,12,10,9,8,10,11,12,13,8,10,14,11,10,11,8,11,12,10,8,10,11,12,11,8,12,11,10,85,11,10,12,8,10,11,12,13]),
 [2103,9],[2110,12],[2120,8],[2130,11],[2140,9],[2150,13],[2160,8],[2170,10],[2180,12],[2190,8],[2200,11],[2210,9],[2220,13],[2230,8],[2240,10],[2250,12],[2260,9],[2270,11],[2280,8],[2290,13],[2300,10],[2310,8],[2320,12],[2330,9],[2340,11],[2350,8],[2360,13],[2370,10],[2380,9],[2390,12],[2400,8],[2410,11],[2420,9],[2430,13],[2440,8],[2450,10],[2460,12],[2470,9],[2480,11],[2490,8],[2500,13],[2510,9],[2520,10],[2530,12],[2540,8],[2550,11],[2560,9],[2570,13],[2580,8],[2590,10],[2600,12],[2610,9],[2620,11],[2630,8],[2640,13],[2650,10],[2660,8],[2670,12],[2680,9],[2690,11],[2700,8],[2710,13],[2720,10],[2730,9],[2740,12],[2750,8],[2760,11],[2770,9],[2780,13],[2790,8],[2800,10],[2810,12],[2820,9],[2830,11],[2840,8],[2850,13],[2860,9],[2870,10],[2880,12],[2890,8],[2900,11],[2910,9],[2920,13],[2930,8],[2940,10],[2950,12],[2960,9],[2970,11],[2980,8],[2990,13],[3000,10],[3010,8],[3020,12],[3030,9],[3040,11],[3050,8],[3060,13],[3070,10],[3080,9],[3090,12],[3100,8],[3110,11],[3120,9],[3130,13],[3140,8],[3150,10],[3160,12],[3170,9],[3180,11],[3190,8],[3202,10]
];
const netTxPkt = [
 [28,13],[33,12],[37,11],[42,18],[47,12],[56,13],[66,12],[72,18],[77,10],[82,10],[86,14],[91,13],[97,17],[102,13],[111,12],[121,20],[126,10],[131,11],[137,16],[142,12],[146,18],[154,13],[157,11],[167,13],[172,17],[176,12],[181,16],[186,11],[192,11],[197,18],[202,9],[208,13],[213,11],[222,18],[227,12],[241,12],[246,18],[250,13],[255,18],[262,12],[266,12],[273,17],[287,11],[296,16],[301,9],[307,13],[317,13],[321,20],[328,10],[340,13],[347,18],[353,14],[367,12],[372,18],[377,18],[381,14],[391,10],[397,17],[402,12],[407,12],[411,15],[416,13],[421,15],[429,12],
 [439,16],[449,12],[459,18],[469,13],[479,11],[489,17],[499,10],[509,14],[519,19],[529,12],[539,13],[549,17],[559,12],[569,14],[579,18],[589,11],[599,13],[609,16],[619,10],[629,18],[639,13],[649,12],[659,17],[669,14],[679,11],[689,19],[699,13],[709,12],[719,17],[729,13],[739,10],[749,18],[759,14],[769,12],[779,16],[789,13],[799,19],[809,12],[819,11],[829,17],[839,13],[849,14],[859,18],[869,12],[879,13],[889,17],[899,11],[909,14],[919,19],[929,12],[939,13],[949,16],[959,11],[969,18],[979,13],[989,12],[999,17],[1009,13],
 ...Z(tB,[13,14,16,50,15,13,12,15,14,16,12,14,15,16,14,13,12,14,15,16,18,12,14,20,15,14,15,12,15,16,14,12,14,15,16,15,12,16,15,14,95,15,14,16,12,14,15,16,18]),
 [2103,13],[2110,17],[2120,12],[2130,15],[2140,13],[2150,18],[2160,12],[2170,14],[2180,17],[2190,12],[2200,15],[2210,13],[2220,18],[2230,12],[2240,14],[2250,17],[2260,13],[2270,15],[2280,12],[2290,18],[2300,14],[2310,12],[2320,17],[2330,13],[2340,15],[2350,12],[2360,18],[2370,14],[2380,13],[2390,17],[2400,12],[2410,15],[2420,13],[2430,18],[2440,12],[2450,14],[2460,17],[2470,13],[2480,15],[2490,12],[2500,18],[2510,13],[2520,14],[2530,17],[2540,12],[2550,15],[2560,13],[2570,18],[2580,12],[2590,14],[2600,17],[2610,13],[2620,15],[2630,12],[2640,18],[2650,14],[2660,12],[2670,17],[2680,13],[2690,15],[2700,12],[2710,18],[2720,14],[2730,13],[2740,17],[2750,12],[2760,15],[2770,13],[2780,18],[2790,12],[2800,14],[2810,17],[2820,13],[2830,15],[2840,12],[2850,18],[2860,13],[2870,14],[2880,17],[2890,12],[2900,15],[2910,13],[2920,18],[2930,12],[2940,14],[2950,17],[2960,13],[2970,15],[2980,12],[2990,18],[3000,14],[3010,12],[3020,17],[3030,13],[3040,15],[3050,12],[3060,18],[3070,14],[3080,13],[3090,17],[3100,12],[3110,15],[3120,13],[3130,18],[3140,12],[3150,14],[3160,17],[3170,13],[3180,15],[3190,12],[3202,14]
];
const netRxKB = [
 [28,1],[37,1],[42,3],[47,1],[66,1],[72,3],[77,1],[82,1],[86,2],[91,1],[96,3],[102,1],[111,1],[121,3],[126,1],[132,1],[137,4],[142,1],[146,3],[157,1],[167,1],[172,3],[176,1],[181,2],[186,1],[192,1],[197,3],[202,1],[213,1],[222,3],[227,1],[241,1],[246,4],[250,1],[255,4],[262,1],[266,1],[271,3],[276,1],[282,2],[287,1],[292,1],[296,3],[301,1],[312,1],[321,3],[328,1],[340,1],[347,3],[353,1],[367,1],[372,3],[377,4],[381,1],[391,1],[397,3],[402,1],[410,1],[414,2],[419,1],[424,3],[429,1],
 [445,1],[450,3],[455,1],[475,1],[480,3],[485,1],[505,1],[510,4],[515,1],[535,1],[540,2],[545,1],[565,1],[570,3],[575,1],[595,1],[600,3],[605,1],[625,1],[630,4],[635,1],[655,1],[660,3],[665,1],[685,1],[690,2],[695,1],[715,1],[720,3],[725,1],[745,1],[750,4],[755,1],[775,1],[780,3],[785,1],[805,1],[810,3],[815,1],[835,1],[840,2],[845,1],[865,1],[870,4],[875,1],[895,1],[900,3],[905,1],[925,1],[930,3],[935,1],[955,1],[960,4],[965,1],[985,1],[990,3],[995,1],[1009,1],
 ...Z(tB,[1,1,2,12,1,1,1,1,1,2,1,1,1,2,1,1,1,1,1,1,2,1,1,3,1,1,2,1,1,1,2,1,1,1,1,2,1,1,1,2,17,1,1,2,1,1,1,1,2]),
 [2103,1],[2115,1],[2120,3],[2125,1],[2145,1],[2150,2],[2155,1],[2175,1],[2180,3],[2185,1],[2205,1],[2210,4],[2215,1],[2235,1],[2240,3],[2245,1],[2265,1],[2270,2],[2275,1],[2295,1],[2300,3],[2305,1],[2325,1],[2330,3],[2335,1],[2355,1],[2360,4],[2365,1],[2385,1],[2390,2],[2395,1],[2415,1],[2420,3],[2425,1],[2445,1],[2450,3],[2455,1],[2475,1],[2480,4],[2485,1],[2505,1],[2510,2],[2515,1],[2535,1],[2540,3],[2545,1],[2565,1],[2570,3],[2575,1],[2595,1],[2600,4],[2605,1],[2625,1],[2630,2],[2635,1],[2655,1],[2660,3],[2665,1],[2685,1],[2690,3],[2695,1],[2715,1],[2720,4],[2725,1],[2745,1],[2750,2],[2755,1],[2775,1],[2780,3],[2785,1],[2805,1],[2810,3],[2815,1],[2835,1],[2840,4],[2845,1],[2865,1],[2870,2],[2875,1],[2895,1],[2900,3],[2905,1],[2925,1],[2930,3],[2935,1],[2955,1],[2960,4],[2965,1],[2985,1],[2990,2],[2995,1],[3015,1],[3020,3],[3025,1],[3045,1],[3050,3],[3055,1],[3075,1],[3080,4],[3085,1],[3105,1],[3110,2],[3115,1],[3135,1],[3140,3],[3145,1],[3165,1],[3170,3],[3175,1],[3202,1]
];
const netTxKB = [
 [28,4],[33,4],[37,3],[42,5],[52,3],[56,4],[61,4],[66,3],[72,5],[82,3],[86,5],[96,3],[101,4],[106,4],[111,3],[117,5],[121,6],[126,3],[132,4],[137,7],[142,3],[146,5],[157,3],[162,4],[172,4],[181,5],[188,3],[197,5],[202,3],[208,4],[217,4],[222,5],[227,3],[232,4],[241,4],[246,5],[250,4],[255,8],[262,3],[266,4],[273,4],[277,5],[282,3],[287,4],[293,5],[298,3],[303,4],[307,4],[314,3],[317,6],[321,4],[328,3],[337,4],[347,4],[353,4],[358,4],[363,3],[372,5],[377,6],[381,4],[391,3],[397,5],[402,4],[407,3],[411,5],[416,4],[421,3],[426,5],[429,4],
 [439,4],[449,3],[459,5],[469,4],[479,3],[489,6],[499,4],[509,3],[519,5],[529,4],[539,3],[549,7],[559,3],[569,4],[579,5],[589,3],[599,4],[609,6],[619,3],[629,4],[639,5],[649,3],[659,4],[669,8],[679,3],[689,4],[699,5],[709,3],[719,4],[729,6],[739,3],[749,4],[759,5],[769,3],[779,4],[789,7],[799,3],[809,4],[819,5],[829,3],[839,4],[849,6],[859,3],[869,4],[879,5],[889,3],[899,4],[909,7],[919,3],[929,4],[939,5],[949,3],[959,4],[969,6],[979,3],[989,4],[999,5],[1009,4],
 ...Z(tB,[4,4,5,10,4,4,3,4,5,5,3,4,5,5,4,4,3,4,5,5,5,3,4,6,5,4,5,3,5,5,5,3,4,5,5,5,3,5,4,5,16,4,5,5,3,4,5,5,6]),
 [2103,4],[2110,5],[2120,3],[2130,6],[2140,4],[2150,5],[2160,3],[2170,4],[2180,6],[2190,3],[2200,5],[2210,4],[2220,7],[2230,3],[2240,4],[2250,5],[2260,3],[2270,6],[2280,4],[2290,3],[2300,5],[2310,4],[2320,7],[2330,3],[2340,4],[2350,5],[2360,3],[2370,6],[2380,4],[2390,3],[2400,5],[2410,4],[2420,8],[2430,3],[2440,4],[2450,5],[2460,3],[2470,6],[2480,4],[2490,3],[2500,5],[2510,4],[2520,7],[2530,3],[2540,4],[2550,5],[2560,3],[2570,6],[2580,4],[2590,3],[2600,5],[2610,4],[2620,7],[2630,3],[2640,4],[2650,5],[2660,3],[2670,6],[2680,4],[2690,3],[2700,5],[2710,4],[2720,8],[2730,3],[2740,4],[2750,5],[2760,3],[2770,6],[2780,4],[2790,3],[2800,5],[2810,4],[2820,7],[2830,3],[2840,4],[2850,5],[2860,3],[2870,6],[2880,4],[2890,3],[2900,5],[2910,4],[2920,7],[2930,3],[2940,4],[2950,5],[2960,3],[2970,6],[2980,4],[2990,3],[3000,5],[3010,4],[3020,8],[3030,3],[3040,4],[3050,5],[3060,3],[3070,6],[3080,4],[3090,3],[3100,5],[3110,4],[3120,7],[3130,3],[3140,4],[3150,5],[3160,3],[3170,6],[3180,4],[3190,3],[3202,5]
];
const netRxCmp = zero, netRxMlt = zero, netTxCmp = zero, netRxErrs = zero, netTxErrs = zero;

// ---------------- DSK ----------------
const dskRead = [
 [28,0],[145,0],[152,30],[159,0],[1006,0],
 ...Z(tB,[0,20,30,900,30,250,0,20,30,60,0,20,30,80,30,40,0,20,30,30,150,0,20,2200,30,30,60,0,30,30,80,0,20,30,30,600,0,30,20,80,250,20,30,60,0,20,30,30,400]),
 [2103,0],[3202,0]
];
const dskWrite = [
 [28,5],[33,28],[37,2],[42,15],[47,80],[52,2],[61,2],[66,42],[72,28],[77,2],[82,12],[86,42],[91,2],[106,2],[111,27],[116,8],[121,12],[126,112],[131,2],[145,2],[151,25],[155,2],[161,12],[166,75],[171,2],[181,2],[186,48],[191,38],[196,2],[200,12],[205,75],[210,2],[220,8],[225,2],[231,15],[235,2],[241,8],[246,115],[250,2],[256,8],[261,2],[266,2],[271,28],[276,2],[281,12],[286,42],[291,8],[295,2],[301,2],[306,32],[310,25],[316,2],[320,12],[326,78],[330,2],[346,2],[351,25],[356,2],[361,12],[366,42],[370,40],[375,2],[385,2],[390,25],[394,8],[400,12],[405,72],[409,2],[424,2],[429,22],
 [435,2],[445,30],[450,2],[460,15],[466,90],[471,2],[485,40],[490,30],[495,2],[505,12],[510,70],[515,2],[530,25],[535,2],[545,45],[550,8],[555,2],[565,110],[570,2],[585,28],[590,2],[600,12],[606,80],[611,2],[625,35],[630,2],[640,15],[646,75],[651,2],[665,42],[670,30],[675,2],[685,110],[690,2],[705,25],[710,2],[720,12],[726,70],[731,2],[745,30],[750,2],[760,45],[765,8],[770,2],[785,80],[790,2],[805,25],[810,2],[820,15],[826,100],[831,2],[845,38],[850,2],[860,12],[866,75],[871,2],[885,30],[890,2],[900,45],[905,40],[910,2],[925,80],[930,2],[945,25],[950,2],[960,12],[966,110],[971,2],[985,30],[990,2],[1000,45],[1006,2],
 ...Z(tB,[2,180,200,30,190,5,2,170,160,20,2,170,200,20,185,10,2,185,190,180,20,2,165,20,210,160,15,2,210,190,20,2,170,185,170,15,2,215,150,20,2,170,180,15,2,170,200,170,20]),
 [2103,2],[2115,30],[2120,2],[2135,80],[2140,2],[2160,45],[2165,2],[2190,110],[2195,2],[2215,40],[2220,2],[2240,75],[2245,2],[2270,30],[2275,2],[2300,120],[2305,2],[2320,45],[2325,2],[2345,80],[2350,2],[2375,25],[2380,2],[2405,100],[2410,2],[2425,50],[2430,2],[2450,70],[2455,2],[2480,35],[2485,2],[2515,110],[2520,2],[2535,45],[2540,2],[2555,80],[2560,2],[2585,30],[2590,2],[2625,130],[2630,2],[2645,40],[2650,2],[2665,75],[2670,2],[2695,35],[2700,2],[2735,110],[2740,2],[2755,45],[2760,2],[2775,80],[2780,2],[2805,25],[2810,2],[2840,120],[2845,2],[2860,40],[2865,2],[2885,75],[2890,2],[2915,30],[2920,2],[2950,110],[2955,2],[2970,45],[2975,2],[2995,80],[3000,2],[3025,35],[3030,2],[3060,130],[3065,2],[3080,40],[3085,2],[3105,75],[3110,2],[3135,30],[3140,2],[3170,110],[3175,2],[3190,45],[3195,2],[3202,2]
];
const dskOps = [
 [28,20],[47,80],[52,10],[86,45],[91,10],[126,115],[131,10],[166,80],[171,10],[205,80],[210,10],[246,120],[250,10],[286,50],[291,10],[326,80],[330,10],[366,50],[375,10],[405,75],[409,10],[466,95],[471,10],[510,75],[515,10],[565,115],[570,10],[606,85],[611,10],[646,80],[651,10],[685,115],[690,10],[726,75],[731,10],[785,85],[790,10],[826,105],[831,10],[866,80],[871,10],[925,85],[930,10],[966,115],[971,10],[1006,10],
 ...Z(tB,[5,190,210,900,200,400,10,180,170,30,5,180,210,30,195,20,5,195,200,190,1800,5,175,2200,220,170,25,5,220,200,30,5,180,195,180,600,5,225,160,30,900,180,190,25,5,180,210,180,400]),
 [2103,10],[2135,80],[2140,10],[2190,115],[2195,10],[2240,80],[2245,10],[2300,125],[2305,10],[2345,85],[2350,10],[2405,105],[2410,10],[2450,75],[2455,10],[2515,115],[2520,10],[2555,85],[2560,10],[2625,135],[2630,10],[2665,80],[2670,10],[2735,115],[2740,10],[2775,85],[2780,10],[2840,125],[2845,10],[2885,80],[2890,10],[2950,115],[2955,10],[2995,85],[3000,10],[3060,135],[3065,10],[3105,80],[3110,10],[3170,115],[3175,10],[3202,10]
];
const dskReadKB = [
 [28,0],[145,0],[152,500],[159,0],[1006,0],
 ...Z(tB,[0,300,500,5000,500,1500,0,300,400,800,0,300,500,1200,500,600,0,300,400,500,2000,0,300,17000,500,400,800,0,500,400,1200,0,300,400,500,8000,0,500,300,1000,3000,300,500,900,0,300,500,400,2500]),
 [2103,0],[3202,0]
];
const dskWriteKB = [
 [28,300],[126,1500],[131,300],[246,1500],[250,300],[565,1500],[570,300],[826,1400],[831,300],[1006,300],
 ...Z(tB,[300,18000,21000,8000,22000,2000,300,19000,18000,6000,300,18000,23000,7000,21000,3000,300,19000,21000,20000,5000,300,18000,8000,24000,19000,4000,300,23000,22000,5000,300,19000,21000,19000,4000,300,24000,17000,5000,300,19000,21000,4000,300,18000,22000,19000,6000]),
 [2103,300],[2140,300],[2150,60000],[2175,30000],[2201,140000],[2210,2000],[2248,2000],[2258,50000],[2280,25000],[2307,130000],[2316,2000],[2353,2000],[2363,55000],[2385,30000],[2412,145000],[2421,2000],[2460,2000],[2470,60000],[2495,25000],[2522,150000],[2531,2000],[2564,2000],[2574,55000],[2600,30000],[2631,135000],[2640,2000],[2676,2000],[2686,50000],[2710,25000],[2742,140000],[2751,2000],[2783,2000],[2793,60000],[2815,30000],[2847,150000],[2856,2000],[2894,2000],[2904,55000],[2925,25000],[2955,130000],[2964,2000],[3003,2000],[3013,60000],[3035,30000],[3066,150000],[3075,2000],[3113,2000],[3123,55000],[3145,25000],[3177,140000],[3186,2000],[3202,2000]
];
const dskKb = [
 [28,300],[126,1500],[131,300],[246,1500],[250,300],[565,1500],[570,300],[826,1400],[831,300],[1006,300],
 ...Z(tB,[300,18300,21500,13000,22500,3500,300,19300,18400,6800,300,18300,23500,8200,21500,3600,300,19300,21400,20500,7000,300,18300,25000,24500,19400,4800,300,23500,22400,6200,300,19300,21400,19500,12000,300,24500,17300,6000,3300,19300,21500,4900,300,18300,22500,19400,8500]),
 [2103,300],[2140,300],[2150,60000],[2175,30000],[2201,140000],[2210,2000],[2248,2000],[2258,50000],[2280,25000],[2307,130000],[2316,2000],[2353,2000],[2363,55000],[2385,30000],[2412,145000],[2421,2000],[2460,2000],[2470,60000],[2495,25000],[2522,150000],[2531,2000],[2564,2000],[2574,55000],[2600,30000],[2631,135000],[2640,2000],[2676,2000],[2686,50000],[2710,25000],[2742,140000],[2751,2000],[2783,2000],[2793,60000],[2815,30000],[2847,150000],[2856,2000],[2894,2000],[2904,55000],[2925,25000],[2955,130000],[2964,2000],[3003,2000],[3013,60000],[3035,30000],[3066,150000],[3075,2000],[3113,2000],[3123,55000],[3145,25000],[3177,140000],[3186,2000],[3202,2000]
];
const dskReadMrg = [
 [28,0],[1006,0],
 ...Z(tB,[0,0,0,250,0,150,100,0,0,0,0,0,0,0,0,0,0,0,0,0,2400,0,0,0,0,0,0,0,0,0,0,0,0,0,0,200,0,0,0,300,850,0,0,0,0,0,0,0,0]),
 [2103,0],[2307,0],[2312,150],[2317,0],[2465,0],[2470,300],[2475,0],[3202,0]
];
const dskWriteMrg = [
 [28,0],[1006,0],
 ...Z(tB,[0,4700,5400,0,5600,0,0,4900,4600,0,0,4700,5600,0,5200,0,0,5200,5300,5100,0,0,4600,0,5900,4400,0,0,5900,5400,0,0,4800,5200,4800,0,0,6000,4100,0,0,4800,5100,0,0,4700,5600,4700,0]),
 [2103,0],[3202,0]
];
const dskMrg = [
 [28,0],[1006,0],
 ...Z(tB,[0,4700,5400,250,5600,150,100,4900,4600,0,0,4700,5600,0,5200,0,0,5200,5300,5100,2400,0,4600,0,5900,4400,0,0,5900,5400,0,0,4800,5200,4800,200,0,6000,4100,300,850,4800,5100,0,0,4700,5600,4700,0]),
 [2103,0],[2307,0],[2312,150],[2317,0],[2465,0],[2470,300],[2475,0],[3202,0]
];

// ---------------- panel definitions ----------------
const labels = ["[CPU]User%","[CPU]Nice%","[CPU]Sys%","[CPU]Wait%","[CPU]Irq%","[CPU]Soft%","[CPU]Steal%","[CPU]Idle%","[CPU]Totl%","[CPU]Intrpt/sec","[CPU]Ctx/sec","[CPU]Proc/sec","[CPU]ProcQue","[CPU]ProcRun","[CPU]L-Avg1","[CPU]L-Avg5","[CPU]L-Avg15","[CPU]RunTot","[CPU]BlkTot",
 "[MEM]Tot","[MEM]Used","[MEM]Free","[MEM]Shared","[MEM]Buf","[MEM]Cached","[MEM]Slab","[MEM]Map","[MEM]Anon","[MEM]Commit","[MEM]Locked","[MEM]SwapTot","[MEM]SwapUsed","[MEM]SwapFree","[MEM]SwapIn","[MEM]SwapOut","[MEM]Dirty","[MEM]Clean","[MEM]Laundry","[MEM]Inactive","[MEM]PageIn","[MEM]PageOut","[MEM]PageFaults","[MEM]PageMajFaults","[MEM]HugeTotal","[MEM]HugeFree","[MEM]HugeRsvd","[MEM]SUnreclaim",
 "[NET]RxPktTot","[NET]TxPktTot","[NET]RxKBTot","[NET]TxKBTot","[NET]RxCmpTot","[NET]RxMltTot","[NET]TxCmpTot","[NET]RxErrsTot","[NET]TxErrsTot",
 "[DSK]ReadTot","[DSK]WriteTot","[DSK]OpsTot","[DSK]ReadKBTot","[DSK]WriteKBTot","[DSK]KbTot","[DSK]ReadMrgTot","[DSK]WriteMrgTot","[DSK]MrgTot"];
const seriesData = [cpuUser,cpuNice,cpuSys,cpuWait,cpuIrq,cpuSoft,cpuSteal,cpuIdle,cpuTotl,cpuIntrpt,cpuCtx,cpuProcSec,cpuProcQue,cpuProcRun,cpuLAvg1,cpuLAvg5,cpuLAvg15,cpuRunTot,cpuBlkTot,
 memTot,memUsed,memFree,memShared,memBuf,memCached,memSlab,memMap,memAnon,memCommit,memLocked,memSwapTot,memSwapUsed,memSwapFree,memSwapIn,memSwapOut,memDirty,memClean,memLaundry,memInactive,memPageIn,memPageOut,memPageFaults,memPageMaj,memHugeTotal,memHugeFree,memHugeRsvd,memSUnreclaim,
 netRxPkt,netTxPkt,netRxKB,netTxKB,netRxCmp,netRxMlt,netTxCmp,netRxErrs,netTxErrs,
 dskRead,dskWrite,dskOps,dskReadKB,dskWriteKB,dskKb,dskReadMrg,dskWriteMrg,dskMrg];
// y axis: [min, max, step]
const yAxes = [[0,100,20],[-0.06,0.06,0.02],[0,90,10],[0,90,10],[-0.06,0.06,0.02],[0,2,0.5],[-0.06,0.06,0.02],[0,100,20],[0,100,20],[17,19,0.5],[0,90000,10000],[0,35,5],[355,390,5],[0,35,5],[0,35,5],[0,25,5],[0,16,2],[0,35,5],[0,40,5],
 [3300000,3700000,50000],[0,3500000,500000],[0,3500000,500000],[-0.06,0.06,0.02],[0,12000,2000],[0,1200000,200000],[50000,85000,5000],[25000,55000,5000],[0,3000000,500000],[0,60000000,10000000],[-0.06,0.06,0.02],[3900000,4500000,100000],[1020000,1160000,20000],[3040000,3180000,20000],[0,4500,500],[0,6000,1000],[0,500000,100000],[-0.06,0.06,0.02],[-0.06,0.06,0.02],[0,1200000,200000],[0,18000,2000],[0,45000,5000],[0,8000,1000],[0,2000,500],[-0.06,0.06,0.02],[-0.06,0.06,0.02],[-0.06,0.06,0.02],[26000,34000,1000],
 [0,90,10],[0,100,20],[0,18,2],[0,18,2],[-0.06,0.06,0.02],[-0.06,0.06,0.02],[-0.06,0.06,0.02],[-0.06,0.06,0.02],[-0.06,0.06,0.02],
 [0,2500,500],[0,250,50],[0,2500,500],[0,18000,2000],[0,180000,20000],[0,180000,20000],[0,2500,500],[0,6000,1000],[0,6000,1000]];
const yOffsetExp = {28: 7};   // panel index -> scientific offset ("1e7")
// legend location per panel
const legendLoc = ["uc","ur","ur","ul","ur","ur","ur","lr","lc","ur","ur","ur","ul","ur","ur","ul","ur","ur","ul",
 "ur","ur","ll","ur","ll","ul","ul","ur","ur","ur","ur","ur","ur","ll","ur","ur","ul","ur","ur","ul","ur","ul","ur","ur","ur","ur","ur","ur",
 "ur","ur","ur","ur","ur","ur","ur","ur","ur",
 "ur","ur","ur","ur","ul","ul","ur","ur","ur"];
const colorCycle = ["#0000ff","#008000","#ff0000","#00bfbf","#bf00bf","#bfbf00","#000000"];

// ---------------- drawing ----------------
const FONT = "DejaVu Sans, Bitstream Vera Sans, sans-serif";
const SCALE = 2276 / 3411;
const L = 56.7, R = 3409, TOP0 = 12.3, PITCH = 93.28, PH = 77.7;
const base = Date.UTC(2000, 0, 1, 21, 35, 0);
const T = s => new Date(base + s * 1000);
const hms = str => { const [h, m, s] = str.split(":").map(Number); return (h - 21) * 3600 + (m - 35) * 60 + s; };
const x = d3.scaleTime().domain(xDomain.map(T)).range([L, R]);

const svg = d3.select("#chart");
const root = svg.append("g").attr("transform", `scale(${SCALE})`);
const defs = svg.append("defs");
const nP = labels.length;

const decOf = v => { const s = String(v); return s.includes(".") ? s.split(".")[1].length : 0; };
const fmt = (v, dec) => { let s = (Math.abs(v) < 1e-12 ? 0 : v).toFixed(dec); return s.replace("-", "\u2212"); };

labels.forEach((lab, i) => {
  const top = TOP0 + i * PITCH, bot = top + PH;
  const [ymin, ymax, ystep] = yAxes[i];
  const y = d3.scaleLinear().domain([ymin, ymax]).range([bot, top]);
  const col = colorCycle[i % 7];
  const g = root.append("g");
  defs.append("clipPath").attr("id", "c" + i).append("rect").attr("x", L).attr("y", top).attr("width", R - L).attr("height", PH);

  const line = d3.line().x(d => x(T(d[0]))).y(d => y(d[1]));
  g.append("path").datum(seriesData[i]).attr("d", line).attr("fill", "none").attr("stroke", col)
    .attr("stroke-width", 1.5).attr("stroke-linejoin", "round").attr("clip-path", `url(#c${i})`);

  const exp = yOffsetExp[i] || 0, div = Math.pow(10, exp);
  const ticks = d3.range(ymin, ymax + ystep / 2, ystep);
  const dec = decOf(ystep / div);
  ticks.forEach(v => {
    const yy = y(v);
    g.append("line").attr("x1", L).attr("x2", L + 5).attr("y1", yy).attr("y2", yy).attr("stroke", "#000").attr("stroke-width", 1);
    g.append("line").attr("x1", R).attr("x2", R - 5).attr("y1", yy).attr("y2", yy).attr("stroke", "#000").attr("stroke-width", 1);
    g.append("text").attr("x", L - 5).attr("y", yy).attr("dy", "0.36em").attr("text-anchor", "end")
      .attr("font-family", FONT).attr("font-size", 9.5).text(fmt(v / div, dec));
  });
  if (exp) g.append("text").attr("x", L).attr("y", top - 3).attr("font-family", FONT).attr("font-size", 9.5).text("1e" + exp);

  const tx = majorTicks.concat(minorTicks).map(hms);
  tx.forEach(s => {
    const xx = x(T(s));
    g.append("line").attr("x1", xx).attr("x2", xx).attr("y1", top).attr("y2", top + 5).attr("stroke", "#000").attr("stroke-width", 1);
    g.append("line").attr("x1", xx).attr("x2", xx).attr("y1", bot).attr("y2", bot - 5).attr("stroke", "#000").attr("stroke-width", 1);
  });

  g.append("rect").attr("x", L).attr("y", top).attr("width", R - L).attr("height", PH)
    .attr("fill", "none").attr("stroke", "#000").attr("stroke-width", 2);

  const lg = g.append("g");
  const box = lg.append("rect").attr("fill", "#fff").attr("stroke", "#000").attr("stroke-width", 1.2);
  const txt = lg.append("text").attr("font-family", FONT).attr("font-size", 12).attr("x", 38).attr("y", 11).attr("dy", "0.36em").text(lab);
  lg.append("line").attr("x1", 8).attr("x2", 26).attr("y1", 11).attr("y2", 11).attr("stroke", col).attr("stroke-width", 1.5);
  const tw = txt.node().getComputedTextLength();
  const bw = 38 + tw + 6, bh = 22, pad = 6;
  box.attr("width", bw).attr("height", bh);
  const loc = legendLoc[i];
  let lx, ly;
  if (loc[1] === "r") lx = R - pad - bw; else if (loc[1] === "l") lx = L + pad; else lx = (L + R) / 2 - bw / 2;
  if (loc[0] === "u") ly = top + pad; else ly = bot - pad - bh;
  lg.attr("transform", `translate(${lx},${ly})`);

  if (i === nP - 1) {
    majorTicks.forEach(tl => {
      const xx = x(T(hms(tl)));
      root.append("text").attr("transform", `translate(${xx + 1},${bot + 12.5}) rotate(-30)`)
        .attr("text-anchor", "end").attr("font-family", FONT).attr("font-size", 10).text(tl + ".000000");
    });
    root.append("text").attr("x", (L + R) / 2).attr("y", bot + 70).attr("text-anchor", "middle")
      .attr("font-family", FONT).attr("font-size", 10).text(xLabel);
  }
});
</script>
</body></html>
